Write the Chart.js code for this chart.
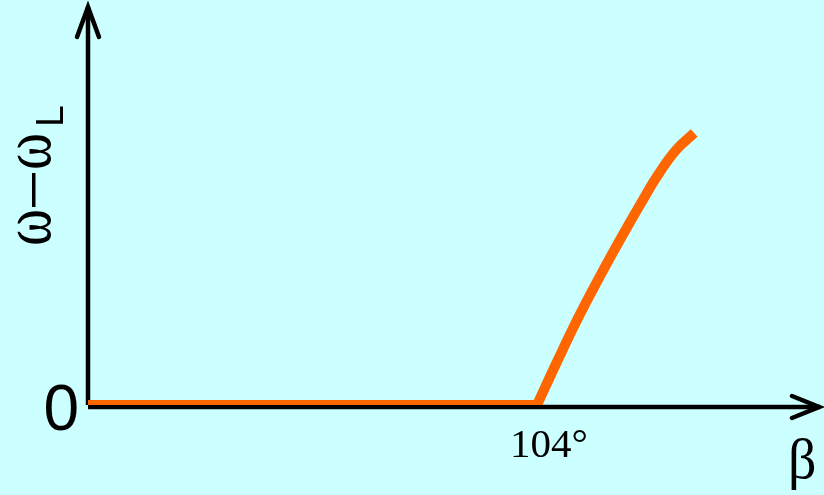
<!DOCTYPE html>
<html>
<head>
<meta charset="utf-8">
<script src="https://cdn.jsdelivr.net/npm/chart.js@4/dist/chart.umd.min.js"></script>
<style>
  html, body { margin: 0; padding: 0; background: #ccffff; }
  #wrap { width: 824px; height: 495px; }
</style>
</head>
<body>
<div id="wrap"><canvas id="dispersion" width="824" height="495"></canvas></div>
<script>
// frequency shift vs. angle beta: zero up to the threshold, then rising
const betaFlat = [0, 104];
const shiftFlat = [0, 0];
const betaRise = [104, 108.6, 113.5, 118.6, 123.45, 128.1, 132.0, 136.2, 140.4];
const shiftRise = [0, 10.75, 21.75, 32.25, 41.75, 50.5, 57.5, 63.75, 68];

const xTicks = [104];
const xTickLabels = ['104°'];
const yTicks = [0];
const yTickLabels = ['0'];

const toPoints = (xs, ys) => xs.map((x, i) => ({ x: x, y: ys[i] }));

function arrowHead(ctx, tx, ty, dx, dy, len, half) {
    // open chevron pointing along (dx, dy)
    const px = -dy, py = dx;
    ctx.beginPath();
    ctx.moveTo(tx - dx * len + px * half, ty - dy * len + py * half);
    ctx.lineTo(tx, ty);
    ctx.lineTo(tx - dx * len - px * half, ty - dy * len - py * half);
    ctx.stroke();
}

const axesPlugin = {
    id: 'arrowAxes',
    beforeDatasetsDraw(chart) {
        const ctx = chart.ctx;
        const xs = chart.scales.x, ys = chart.scales.y;
        const x0 = xs.getPixelForValue(0);
        const y0 = ys.getPixelForValue(0);
        const area = chart.chartArea;
        ctx.save();
        ctx.strokeStyle = '#000';
        ctx.lineWidth = 4.5;
        ctx.lineCap = 'butt';
        // vertical axis
        ctx.beginPath();
        ctx.moveTo(x0, y0);
        ctx.lineTo(x0, area.top + 2);
        ctx.stroke();
        // horizontal axis
        ctx.beginPath();
        ctx.moveTo(x0, y0 + 2);
        ctx.lineTo(area.right - 2, y0 + 2);
        ctx.stroke();
        ctx.lineCap = 'round';
        ctx.lineJoin = 'miter';
        arrowHead(ctx, x0, area.top + 2, 0, -1, 30, 11);
        arrowHead(ctx, area.right - 3, y0 + 2, 1, 0, 27, 11);
        ctx.restore();
    },
    afterDatasetsDraw(chart) {
        const ctx = chart.ctx;
        const xs = chart.scales.x, ys = chart.scales.y;
        ctx.save();
        ctx.fillStyle = '#000';
        ctx.textBaseline = 'alphabetic';

        // tick labels
        ctx.font = '64px "Liberation Sans", Arial, sans-serif';
        ctx.textAlign = 'right';
        yTicks.forEach((v, i) => {
            ctx.fillText(yTickLabels[i], xs.getPixelForValue(0) - 9, ys.getPixelForValue(v) + 25);
        });
        ctx.font = '41px "Liberation Serif", "Times New Roman", serif';
        ctx.textAlign = 'left';
        xTicks.forEach((v, i) => {
            ctx.fillText(xTickLabels[i], xs.getPixelForValue(v) - 27, ys.getPixelForValue(0) + 52);
        });

        // axis titles
        ctx.font = '56px "Liberation Serif", "Times New Roman", serif';
        ctx.fillText('β', 788, 478);

        ctx.translate(50, 245);
        ctx.rotate(-Math.PI / 2);
        ctx.save();
        ctx.scale(1, 1.25);
        ctx.font = '56px "Liberation Serif", "Times New Roman", serif';
        ctx.fillText('ω', -1, 0);
        ctx.fillText('ω', 75, 0);
        ctx.restore();
        ctx.fillRect(38, -18, 34, 3.5);
        ctx.font = '39px "Liberation Sans", Arial, sans-serif';
        ctx.fillText('L', 118, 13);
        ctx.restore();
    }
};

new Chart(document.getElementById('dispersion'), {
    type: 'line',
    data: {
        datasets: [{
            data: toPoints(betaFlat, shiftFlat),
            borderColor: '#ff6600',
            borderWidth: 10,
            borderCapStyle: 'butt',
            pointRadius: 0,
            tension: 0
        }, {
            data: toPoints(betaRise, shiftRise),
            borderColor: '#ff6600',
            borderWidth: 10,
            borderCapStyle: 'butt',
            pointRadius: 0,
            tension: 0.4
        }]
    },
    options: {
        responsive: false,
        animation: false,
        events: [],
        layout: { padding: { left: 88, right: 2, top: 5, bottom: 90 } },
        scales: {
            x: { type: 'linear', min: 0, max: 170, display: false },
            y: { min: 0, max: 100, display: false }
        },
        plugins: {
            legend: { display: false },
            tooltip: { enabled: false }
        }
    },
    plugins: [axesPlugin]
});
</script>
</body>
</html>
